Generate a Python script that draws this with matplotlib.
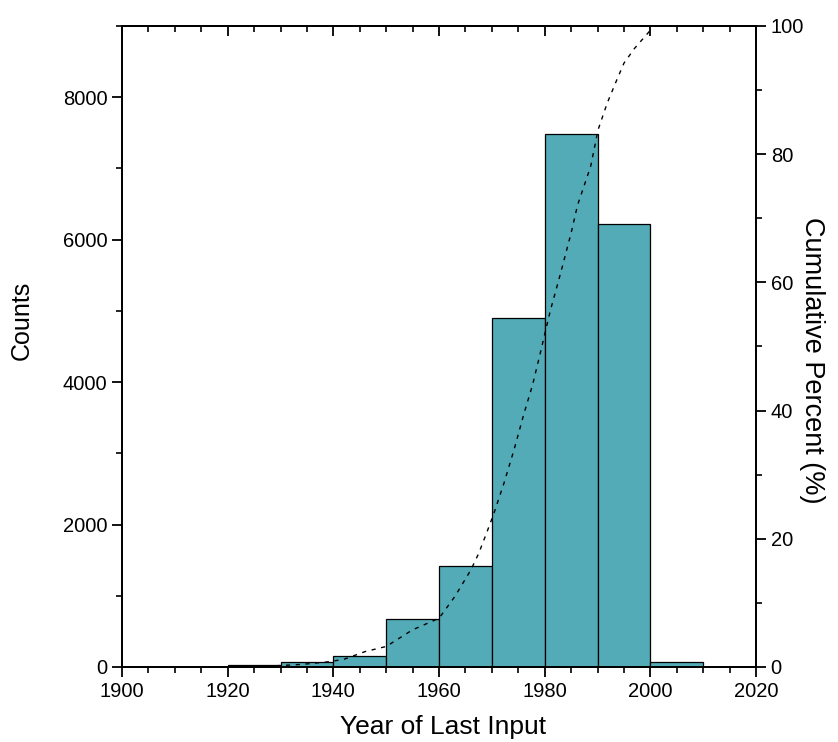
import numpy as np
import matplotlib
matplotlib.use('Agg')
import matplotlib.pyplot as plt
from matplotlib.ticker import MultipleLocator

plt.rcParams['font.family'] = ['Liberation Sans', 'DejaVu Sans']

# histogram bins (left edges, width 10 years) and counts
bin_left = [1920, 1930, 1940, 1950, 1960, 1970, 1980, 1990, 2000]
counts = [24, 70, 150, 670, 1420, 4895, 7478, 6215, 75]
bin_width = 10

# cumulative percent curve (dashed), read point by point
cum_year = [1920, 1927, 1934, 1939, 1942, 1946, 1950, 1955, 1960, 1963, 1966,
            1967.5, 1969, 1970.4, 1972.3, 1974.2, 1976.1, 1977.7, 1979,
            1980.2, 1981.1, 1983, 1985, 1986.2, 1988.7, 1990.1, 1991.8,
            1993.5, 1995, 1997, 2000.5]
cum_pct = [0, 0.1, 0.4, 0.8, 1.2, 2.4, 3.2, 5.8, 7.6, 11.0, 15.1,
           17.7, 20.9, 24.0, 28.7, 33.9, 39.6, 44.0, 48.4,
           52.6, 55.7, 61.4, 67.7, 72.0, 78.1, 83.8, 87.9,
           91.3, 94.2, 96.5, 99.8]

fig = plt.figure(figsize=(8.38, 7.42), dpi=100)
ax = fig.add_axes([0.1456, 0.1011, 0.7566, 0.8639])

ax.bar(bin_left, counts, width=bin_width, align='edge',
       color='#52abb6', edgecolor='black', linewidth=0.9, zorder=2)

ax.set_xlim(1900, 2020)
ax.set_ylim(0, 9000)
ax.xaxis.set_major_locator(MultipleLocator(20))
ax.xaxis.set_minor_locator(MultipleLocator(5))
ax.yaxis.set_major_locator(MultipleLocator(2000))
ax.yaxis.set_minor_locator(MultipleLocator(1000))
ax.tick_params(which='major', direction='out', length=7, width=1.3, labelsize=14.5)
ax.tick_params(which='minor', direction='out', length=4, width=1.2)
ax.set_xlabel('Year of Last Input', fontsize=19)
ax.set_ylabel('Counts', fontsize=18, family=['Liberation Sans Narrow', 'Liberation Sans'])

# top axis: ticks pointing inward, no labels
top = ax.secondary_xaxis('top')
top.xaxis.set_major_locator(MultipleLocator(20))
top.xaxis.set_minor_locator(MultipleLocator(5))
top.tick_params(which='major', direction='in', length=7, width=1.3, labeltop=False)
top.tick_params(which='minor', direction='in', length=4, width=1.2)

ax2 = ax.twinx()
ax2.plot(cum_year, cum_pct, color='black', linewidth=1.0,
         linestyle=(0, (3, 4)), zorder=3)
ax2.set_ylim(0, 100)
ax2.yaxis.set_major_locator(MultipleLocator(20))
ax2.yaxis.set_minor_locator(MultipleLocator(10))
ax2.tick_params(which='major', direction='out', length=7, width=1.3, labelsize=14.5)
ax2.tick_params(which='minor', direction='out', length=4, width=1.2)
ax2.set_ylabel('Cumulative Percent (%)', fontsize=19.5, rotation=270)

# place axis titles by their centres
ax.xaxis.set_label_coords(0.507, -0.093)
ax.yaxis.set_label_coords(-0.158, 0.541)
ax2.yaxis.set_label_coords(1.088, 0.479)
for lab in (ax.xaxis.label, ax.yaxis.label, ax2.yaxis.label):
    lab.set_va('center')
    lab.set_ha('center')
    lab.set_rotation_mode('anchor')

for a in (ax, ax2):
    for s in a.spines.values():
        s.set_linewidth(1.3)
top.spines['top'].set_linewidth(1.3)

fig.savefig('out.png', dpi=100)
